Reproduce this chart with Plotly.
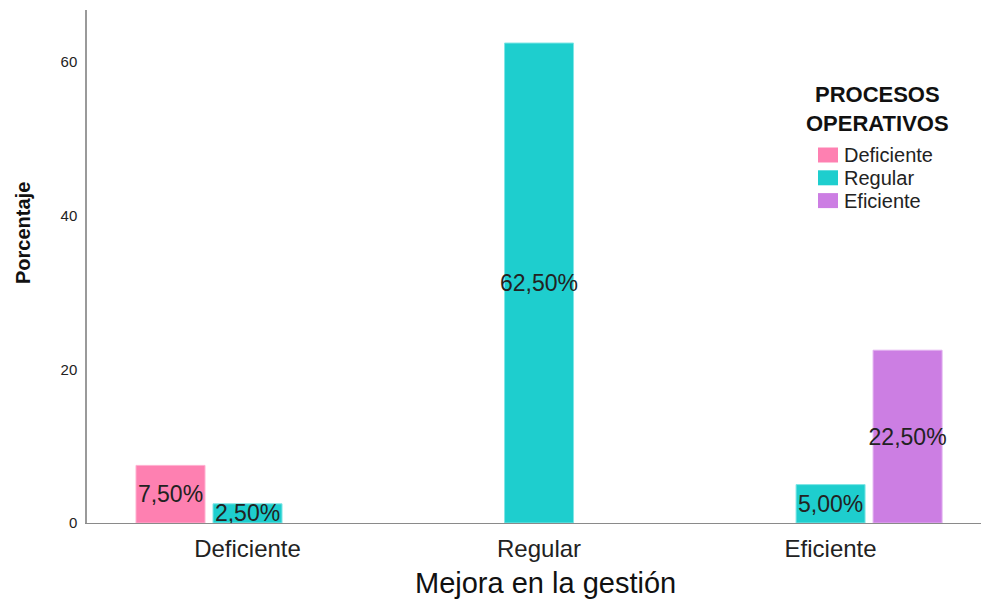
import plotly.graph_objects as go

# ---- data ----
categories = ["Deficiente", "Regular", "Eficiente"]
series_names = ["Deficiente", "Regular", "Eficiente"]
deficiente_vals = [7.5, None, None]
regular_vals = [2.5, 62.5, 5.0]
eficiente_vals = [None, None, 22.5]
y_ticks = [0, 20, 40, 60]

colors = ["#FE80B1", "#1ECECE", "#CC7EE3"]
edge_colors = ["#FFB0D0", "#80E6E6", "#E2B0F0"]

FONT = "Liberation Sans, Arial, sans-serif"
W, H = 981, 601
L, R, T, B = 87, 0, 10, 78
PW, PH = W - L - R, H - T - B


def px_x(x):
    return (x - L) / PW


def px_y(y):
    return (H - B - y) / PH


def fmt(v):
    return "" if v is None else f"{v:.2f}".replace(".", ",") + "%"


fig = go.Figure()
for name, vals, col, ecol in zip(series_names,
                                 [deficiente_vals, regular_vals, eficiente_vals],
                                 colors, edge_colors):
    fig.add_trace(go.Bar(
        name=name, x=categories, y=vals,
        marker=dict(color=col, line=dict(color=ecol, width=1)),
        text=[fmt(v) for v in vals],
        textposition="inside", insidetextanchor="middle", textangle=0,
        constraintext="none", cliponaxis=False,
        textfont=dict(family=FONT, size=23, color="#222222"),
        showlegend=False, hoverinfo="skip",
    ))

fig.update_layout(
    width=W, height=H,
    margin=dict(l=L, r=R, t=T, b=B, pad=0),
    paper_bgcolor="white", plot_bgcolor="white",
    barmode="group", bargap=0.2075, bargroupgap=0.104,
    font=dict(family=FONT, color="#222222"),
    xaxis=dict(
        range=[-0.5506, 2.516], showgrid=False, zeroline=False,
        showline=True, linecolor="#8a8a8a", linewidth=1,
        ticks="outside", ticklen=4, tickcolor="rgba(0,0,0,0)",
        tickfont=dict(family=FONT, size=24, color="#222222"),
    ),
    yaxis=dict(
        range=[0, 66.8], showgrid=False, zeroline=False,
        showline=True, linecolor="#9a9a9a", linewidth=1.5,
        tickvals=y_ticks, ticktext=[str(t) for t in y_ticks],
        ticks="outside", ticklen=5, tickcolor="rgba(0,0,0,0)",
        tickfont=dict(family=FONT, size=15, color="#222222"),
    ),
)

# axis titles
fig.add_annotation(text="Porcentaje", xref="paper", yref="paper",
                   x=px_x(23), y=px_y(233), textangle=-90, showarrow=False,
                   xanchor="center", yanchor="middle",
                   font=dict(family=FONT, size=20, color="#111111", weight="bold"))
fig.add_annotation(text="Mejora en la gestión", xref="paper", yref="paper",
                   x=px_x(545), y=px_y(583), showarrow=False,
                   xanchor="center", yanchor="middle",
                   font=dict(family=FONT, size=29, color="#111111"))

# legend (title + swatches + labels)
legend_title = ["PROCESOS", "OPERATIVOS"]
fig.add_annotation(text="<br>".join(legend_title), xref="paper", yref="paper",
                   x=px_x(877), y=px_y(109), showarrow=False,
                   xanchor="center", yanchor="middle", align="center",
                   font=dict(family=FONT, size=22, color="#111111", weight="bold"))
for i, (name, col) in enumerate(zip(series_names, colors)):
    yc = 155 + i * 22.8
    fig.add_shape(type="rect", xref="paper", yref="paper",
                  x0=px_x(818), x1=px_x(838), y0=px_y(yc - 7.5), y1=px_y(yc + 7.5),
                  fillcolor=col, line=dict(width=0))
    fig.add_annotation(text=name, xref="paper", yref="paper",
                       x=px_x(842), y=px_y(yc), showarrow=False,
                       xanchor="left", yanchor="middle",
                       font=dict(family=FONT, size=20, color="#222222"))

fig.write_html("out.html")
